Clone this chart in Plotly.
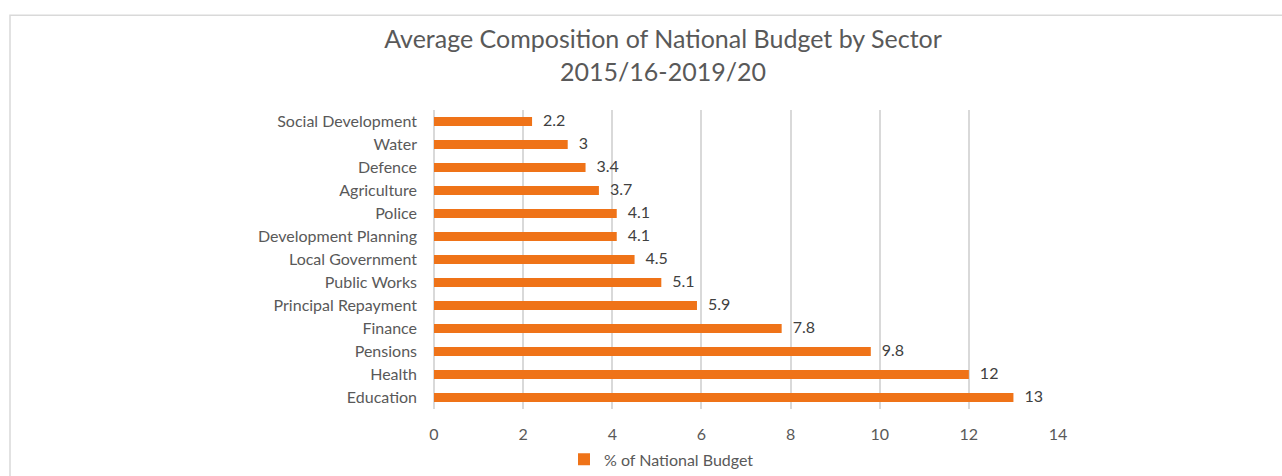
import plotly.graph_objects as go

sectors = ["Education", "Health", "Pensions", "Finance", "Principal Repayment",
           "Public Works", "Local Government", "Development Planning", "Police",
           "Agriculture", "Defence", "Water", "Social Development"]
values = [13, 12, 9.8, 7.8, 5.9, 5.1, 4.5, 4.1, 4.1, 3.7, 3.4, 3, 2.2]
x_ticks = [0, 2, 4, 6, 8, 10, 12, 14]

FONT = "Lato"
GREY = "#595959"
ORANGE = "#EF7318"

fig = go.Figure()
fig.add_trace(go.Bar(
    y=sectors, x=values, orientation="h",
    marker=dict(color=ORANGE, line=dict(width=0)),
    width=0.39,
    name="% of National Budget",
    showlegend=True,
))
fig.add_trace(go.Scatter(
    y=sectors, x=values, mode="text+markers",
    text=[f"{v:g}" for v in values],
    textposition="middle right",
    marker=dict(size=16, color="rgba(0,0,0,0)"),
    textfont=dict(family=FONT, size=16, color="#404040"),
    showlegend=False, hoverinfo="skip", cliponaxis=False,
))

W, H = 1282, 476
L, R, T, B = 434, 1058, 110, 409.5
fig.update_layout(
    width=W, height=H,
    margin=dict(l=L, r=W - R, t=T, b=H - B, autoexpand=False),
    paper_bgcolor="white", plot_bgcolor="white",
    font=dict(family=FONT, color=GREY, size=16),
    title=dict(text="Average Composition of National Budget by Sector<br>2015/16-2019/20",
               x=663 / W, xref="container", xanchor="center",
               y=1 - 48 / H, yref="container", yanchor="middle",
               font=dict(family=FONT, size=25, color=GREY)),
    xaxis=dict(range=[0, 14], tickvals=x_ticks, showgrid=True,
               gridcolor="#d9d9d9", gridwidth=1.5, zeroline=True,
               zerolinecolor="#d9d9d9", zerolinewidth=1.5,
               showline=False, ticks="", ticklabelstandoff=14,
               tickfont=dict(family=FONT, size=16, color=GREY), fixedrange=True),
    yaxis=dict(categoryorder="array", categoryarray=sectors,
               range=[-0.5, len(sectors) - 0.5],
               showgrid=False, zeroline=False, showline=False, ticks="",
               ticklabelstandoff=16,
               tickfont=dict(family=FONT, size=16, color=GREY), fixedrange=True),
    legend=dict(orientation="h", x=(564 - L) / (R - L), xanchor="left",
                y=(B - 460) / (B - T), yanchor="middle",
                font=dict(family=FONT, size=16, color=GREY),
                itemwidth=30, bgcolor="rgba(0,0,0,0)"),
    bargap=0.6,
)
# chart area border
fig.add_shape(type="rect", xref="paper", yref="paper",
              x0=(10 - L) / (R - L), x1=(1300 - L) / (R - L),
              y0=(B - 500) / (B - T), y1=(B - 15) / (B - T),
              line=dict(color="#d9d9d9", width=1.5), fillcolor="rgba(0,0,0,0)",
              layer="below")

fig.write_html("out.html")
